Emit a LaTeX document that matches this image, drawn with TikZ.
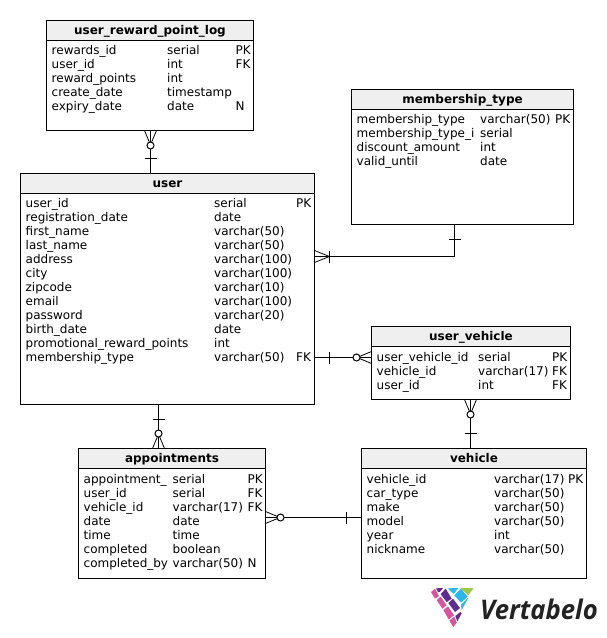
\documentclass[tikz,border=0pt]{standalone}
\usepackage{fontspec}
\setmainfont{DejaVu Sans}
\newfontfamily\logofont{Open Sans}
\definecolor{hdr}{HTML}{EFEFEF}
\definecolor{lpink}{HTML}{D6559C}
\definecolor{lpurple}{HTML}{5F2D8C}
\definecolor{lblue}{HTML}{2DB6E8}
\definecolor{lgreen}{HTML}{9CC84B}
\definecolor{ltext}{HTML}{222222}
\tikzset{
  x=1pt,y=-1pt,
  tablebox/.style={draw=black,line width=1.2pt,fill=white,anchor=north west,inner sep=0pt,outer sep=0pt},
  headbox/.style={draw=black,line width=1.2pt,fill=hdr,anchor=north west,inner sep=0pt,outer sep=0pt,text height=9,text depth=1,font=\bfseries\fontsize{12}{14}\selectfont},
  cell/.style={anchor=base west,inner sep=0pt,font=\fontsize{12}{14}\selectfont},
  conn/.style={line width=1pt,draw=black},
  pics/zeromany/.style={code={
    \draw[conn,line width=.8pt] (0,-6) -- (12,-1) (0,6) -- (12,1);
    \draw[conn,fill=white] (15,0) circle (3.5);
  }},
  pics/onebar/.style={code={
    \draw[conn] (15,-6) -- (15,6);
  }},
  pics/onemany/.style={code={
    \draw[conn,line width=.8pt] (0,-6) -- (15,0) (0,6) -- (15,0);
    \draw[conn] (15,-6) -- (15,6);
  }},
}
\newcommand{\tbl}[7]{% name, x, y, w, h, header h, title
  \node[tablebox,minimum width=#4pt,minimum height=#5pt] (#1) at (#2,#3) {};
  \node[headbox,minimum width=#4pt,minimum height=#6pt] (#1head) at (#2,#3) {#7};
}
\begin{document}
\begin{tikzpicture}
\useasboundingbox (0,0) rectangle (606,638);

\tbl{urpl}{46.5}{20.5}{207}{110}{20}{user\_reward\_point\_log}
\tbl{mtype}{351.5}{89.5}{222}{135}{20}{membership\_type}
\tbl{user}{20.5}{173.5}{294}{231}{20}{user}
\tbl{uveh}{371.5}{326.5}{199}{73}{20}{user\_vehicle}
\tbl{appt}{78.5}{448.5}{187}{130}{20}{appointments}
\tbl{veh}{361.5}{448.5}{225}{130}{20}{vehicle}

% table rows
\foreach \y/\a/\b/\c in {
  54/rewards\_id/serial/PK, 68/user\_id/int/FK, 82/reward\_points/int/, 96/create\_date/timestamp/, 110/expiry\_date/date/N}
  {\node[cell] at (51.5,\y) {\a}; \node[cell] at (167,\y) {\b}; \node[cell] at (235.5,\y) {\c};}
\foreach \y/\a/\b/\c in {
  123/membership\_type/varchar(50)/PK, 137/membership\_type\_i/serial/, 151/discount\_amount/int/, 165/valid\_until/date/}
  {\node[cell] at (356.5,\y) {\a}; \node[cell] at (480,\y) {\b}; \node[cell] at (555,\y) {\c};}
\foreach \y/\a/\b/\c in {
  207/user\_id/serial/PK, 221/registration\_date/date/, 235/first\_name/varchar(50)/, 249/last\_name/varchar(50)/,
  263/address/varchar(100)/, 277/city/varchar(100)/, 291/zipcode/varchar(10)/, 305/email/varchar(100)/,
  319/password/varchar(20)/, 333/birth\_date/date/, 347/promotional\_reward\_points/int/, 361/membership\_type/varchar(50)/FK}
  {\node[cell] at (25.5,\y) {\a}; \node[cell] at (214,\y) {\b}; \node[cell] at (296,\y) {\c};}
\foreach \y/\a/\b/\c in {
  361/user\_vehicle\_id/serial/PK, 375/vehicle\_id/varchar(17)/FK, 389/user\_id/int/FK}
  {\node[cell] at (376.5,\y) {\a}; \node[cell] at (478,\y) {\b}; \node[cell] at (552,\y) {\c};}
\foreach \y/\a/\b/\c in {
  483/appointment\_/serial/PK, 497/user\_id/serial/FK, 511/vehicle\_id/varchar(17)/FK, 525/date/date/,
  539/time/time/, 553/completed/boolean/, 567/completed\_by/varchar(50)/N}
  {\node[cell] at (83.5,\y) {\a}; \node[cell] at (172.5,\y) {\b}; \node[cell] at (247.5,\y) {\c};}
\foreach \y/\a/\b/\c in {
  483/vehicle\_id/varchar(17)/PK, 497/car\_type/varchar(50)/, 511/make/varchar(50)/, 525/model/varchar(50)/,
  539/year/int/, 553/nickname/varchar(50)/}
  {\node[cell] at (366.5,\y) {\a}; \node[cell] at (494,\y) {\b}; \node[cell] at (568,\y) {\c};}

% connector positions
\coordinate (cxa) at (150.5,0);
\coordinate (cxb) at (454.5,0);
\coordinate (cxc) at (470.5,0);
\coordinate (cxd) at (158.5,0);
\coordinate (cya) at (0,256.5);
\coordinate (cyb) at (0,357.5);
\coordinate (cyc) at (0,517.5);

% user_reward_point_log -- user
\draw[conn] (urpl.south -| cxa) -- (user.north -| cxa);
\path (urpl.south -| cxa) pic[rotate=-90] {zeromany};
\path (user.north -| cxa) pic[rotate=90] {onebar};
% membership_type -- user
\draw[conn] (mtype.south -| cxb) |- (user.east |- cya);
\path (mtype.south -| cxb) pic[rotate=-90] {onebar};
\path (user.east |- cya) pic {onemany};
% user -- user_vehicle
\draw[conn] (user.east |- cyb) -- (uveh.west |- cyb);
\path (user.east |- cyb) pic {onebar};
\path (uveh.west |- cyb) pic[rotate=180] {zeromany};
% user_vehicle -- vehicle
\draw[conn] (uveh.south -| cxc) -- (veh.north -| cxc);
\path (uveh.south -| cxc) pic[rotate=-90] {zeromany};
\path (veh.north -| cxc) pic[rotate=90] {onebar};
% user -- appointments
\draw[conn] (user.south -| cxd) -- (appt.north -| cxd);
\path (user.south -| cxd) pic[rotate=-90] {onebar};
\path (appt.north -| cxd) pic[rotate=90] {zeromany};
% appointments -- vehicle
\draw[conn] (appt.east |- cyc) -- (veh.west |- cyc);
\path (appt.east |- cyc) pic {zeromany};
\path (veh.west |- cyc) pic[rotate=180] {onebar};

% logo
\begin{scope}[shift={(425,582)},scale=1/3]
\fill[lpink] (18,30) -- (30,20) -- (42,42) -- (30,50) -- cycle;
\fill[lpurple] (33,19) -- (55,18) -- (44,30) -- (39,30) -- cycle;
\fill[lpurple] (47,36) -- (62,20) -- (80,50) -- (65,60) -- cycle;
\fill[lpink] (35,54) -- (47,44) -- (65,70) -- (52,80) -- cycle;
\fill[lblue] (68,19) -- (100,18) -- (86,36) -- cycle;
\fill[lblue] (88,40) -- (108,20) -- (128,44) -- (108,62) -- cycle;
\fill[lgreen] (106,18) -- (146,18) -- (130,40) -- cycle;
\fill[lpurple] (70,63) -- (84,50) -- (105,78) -- (90,90) -- cycle;
\fill[lpink] (55,84) -- (69,73) -- (87,100) -- (71,112) -- cycle;
\fill[lblue] (108,68) -- (131,46) -- (110,84) -- cycle;
\fill[lpink] (73,116) -- (88,104) -- (95,122) -- (85,135) -- cycle;
\fill[lpurple] (91,102) -- (106,90) -- (110,94) -- (97,118) -- cycle;
\end{scope}
\node[anchor=base west,inner sep=0pt,text=ltext,xscale=.95,font=\logofont\bfseries\itshape\fontsize{27}{30}\selectfont] (logotext) at (480,619) {Vertabelo};
\end{tikzpicture}
\end{document}
